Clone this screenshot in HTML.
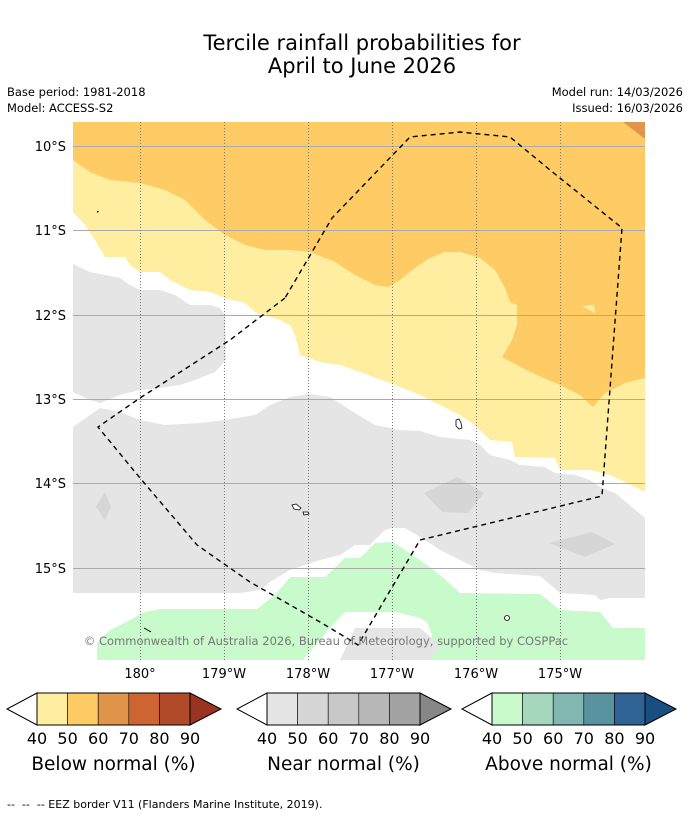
<!DOCTYPE html>
<html><head><meta charset="utf-8"><style>
body{margin:0;background:#fff;width:690px;height:816px;overflow:hidden;font-family:"DejaVu Sans","Liberation Sans",sans-serif;}
svg{position:absolute;left:0;top:0}
text{white-space:pre}
</style></head><body>
<svg width="690" height="816" viewBox="0 0 690 816">
<text x="362" y="50" font-size="21" text-anchor="middle">Tercile rainfall probabilities for</text>
<text x="362" y="73" font-size="21" text-anchor="middle">April to June 2026</text>
<text x="7" y="96" font-size="11.5">Base period: 1981-2018</text>
<text x="7" y="112" font-size="11.5">Model: ACCESS-S2</text>
<text x="683" y="96" font-size="11.5" text-anchor="end">Model run: 14/03/2026</text>
<text x="683" y="112" font-size="11.5" text-anchor="end">Issued: 16/03/2026</text>
<defs><clipPath id="mc"><rect x="73" y="122" width="572" height="538"/></clipPath></defs>
<g clip-path="url(#mc)">
<rect x="73" y="122" width="572" height="538" fill="#fff"/>
<polygon fill="#FFEDA0" points="73,122 645,122 645,492 610,475 590,470 560,470 555,458 515,457 512,442 490,440 475,425 460,415 440,405 420,395 395,385 360,372 340,365 320,362 300,355 295,335 290,325 280,320 265,315 255,312 245,303 225,298 210,292 190,290 170,280 160,272 140,272 130,265 125,257 105,257 95,240 85,225 73,212"/>
<polygon fill="#FECB64" points="73,122 645,122 645,378 625,383 605,393 593,407 580,395 560,385 530,372 502,357 512,340 517,325 517,305 510,302 505,288 495,270 480,258 460,252 445,252 430,258 415,268 400,280 388,287 375,285 355,275 335,262 310,252 290,250 265,250 245,245 225,235 205,220 185,200 165,190 140,183 110,180 90,172 73,160"/>
<polygon fill="#E0954A" points="623,122 645,122 645,139"/>
<polygon fill="#FFEDA0" points="582,306 594,305 595,313"/>
<polygon fill="#E5E5E5" points="73,264 90,272 105,275 120,278 130,285 140,290 160,290 175,295 190,305 210,305 220,308 225,315 226,360 215,372 195,380 180,385 160,388 140,390 120,395 100,403 90,400 73,392"/>
<polygon fill="#E5E5E5" points="73,427 90,415 100,408 120,412 140,420 165,425 200,423 225,420 255,415 270,405 290,397 310,394 330,397 350,410 375,425 390,428 400,430 420,431 440,437 470,440 480,445 490,455 510,460 520,465 545,467 555,473 575,475 590,480 600,487 615,493 645,518 645,598 610,598 600,600 595,595 560,593 540,576 495,573 480,570 460,560 440,550 425,540 405,528 392,528 385,530 380,535 370,545 355,545 340,555 320,560 290,570 270,582 260,590 240,593 73,593"/>
<polygon fill="#D6D6D6" points="96,507 105,492 111,507 105,520"/>
<polygon fill="#D6D6D6" points="424,493 457,477 484,493 468,513 442,512"/>
<polygon fill="#D6D6D6" points="549,543 592,532 615,544 585,557"/>
<polygon fill="#C8FACB" points="97,660 97,643 110,630 130,620 145,612 160,609 257,609 275,595 290,577 325,577 345,558 360,558 375,543 393,542 420,560 440,575 460,593 540,594 560,610 600,612 613,628 645,628 645,660"/>
<polygon fill="#fff" points="303,660 330,628 345,612 395,612 400,613 420,618 427,622 432,635 428,660"/>
<polygon fill="#E5E5E5" points="340,660 355,628 420,628 440,645 430,660"/>
<g stroke="#aaa" stroke-width="1">
<line x1="73" x2="645" y1="146.5" y2="146.5"/><line x1="73" x2="645" y1="230.5" y2="230.5"/><line x1="73" x2="645" y1="315.5" y2="315.5"/><line x1="73" x2="645" y1="399.5" y2="399.5"/><line x1="73" x2="645" y1="483.5" y2="483.5"/><line x1="73" x2="645" y1="568.5" y2="568.5"/>
</g>
<g stroke="#777" stroke-width="1" stroke-dasharray="1,2">
<line y1="122" y2="660" x1="140.5" x2="140.5"/><line y1="122" y2="660" x1="224.5" x2="224.5"/><line y1="122" y2="660" x1="308.5" x2="308.5"/><line y1="122" y2="660" x1="392.5" x2="392.5"/><line y1="122" y2="660" x1="476.5" x2="476.5"/><line y1="122" y2="660" x1="560.5" x2="560.5"/>
</g>
<g fill="#fff" stroke="#000" stroke-width="0.8">
<path d="M456,420 l3,-1 l2,4 l1,5 l-3,1 l-3,-3 z"/>
<path d="M292,505 l4,-1 l5,4 l-2,2 l-5,-1 z"/>
<path d="M303,512 l5,0 l1,2 l-5,1 z"/>
<circle cx="507" cy="618" r="2.5"/>
</g>
<line x1="144" y1="628" x2="151" y2="632" stroke="#000" stroke-width="1"/>
<rect x="97" y="211" width="1.5" height="1.5" fill="#000"/>
<polyline fill="none" stroke="#000" stroke-width="1.4" stroke-dasharray="5,4" points="285,298 230,340 140,398 98,427 140,478 197,545 250,582 320,622 350,640 358,645 420,540 602,496 622,228 550,170 510,137 460,132 410,137 332,218 285,298"/>
<text x="326" y="645" font-size="11.5" fill="#777" text-anchor="middle">© Commonwealth of Australia 2026, Bureau of Meteorology, supported by COSPPac</text>
</g>
<g font-size="13" text-anchor="end">
<text x="66" y="151">10°S</text><text x="66" y="235">11°S</text><text x="66" y="320">12°S</text><text x="66" y="404">13°S</text><text x="66" y="488">14°S</text><text x="66" y="573">15°S</text>
</g>
<g font-size="13" text-anchor="middle">
<text x="140" y="678">180°</text><text x="224" y="678">179°W</text><text x="308" y="678">178°W</text><text x="392" y="678">177°W</text><text x="476" y="678">176°W</text><text x="560" y="678">175°W</text>
</g>
<g id="cbars"></g>
<text x="7" y="808" font-size="11">--  --  -- EEZ border V11 (Flanders Marine Institute, 2019).</text>
</svg>
<script>
const tickLabels = ["40","50","60","70","80","90"];
const barTitles = ["Below normal (%)","Near normal (%)","Above normal (%)"];
const belowColors = ["#FFEDA0","#FECB64","#E0954A","#CF6433","#B04A28","#9A3322"];
const nearColors = ["#E5E5E5","#D6D6D6","#C8C8C8","#B7B7B7","#A3A3A3","#878787"];
const aboveColors = ["#C8FACB","#A4D7BC","#81B7B0","#5A93A0","#2F6396","#184E82"];
const NS="http://www.w3.org/2000/svg";
const root=document.getElementById('cbars');
const sets=[belowColors,nearColors,aboveColors];
const starts=[37,267,492];
function mk(tag,attrs,parent){const e=document.createElementNS(NS,tag);for(const k in attrs)e.setAttribute(k,attrs[k]);parent.appendChild(e);return e;}
sets.forEach((cols,i)=>{
  const x0=starts[i], w=153, n=cols.length-1, bw=w/n, y0=693, h=32;
  const g=mk('g',{},root);
  
  
  const lt=mk('polygon',{points:`${x0},${y0} ${x0-30},${y0+h/2} ${x0},${y0+h}`,fill:'#fff',stroke:'#000','stroke-width':1},g);
  
  
  for(let k=0;k<n;k++){
    const r=mk('rect',{x:x0+k*bw,y:y0,width:bw,height:h,fill:cols[k],stroke:'#000','stroke-width':0.6},g);
    
    
  }
  const rt=mk('polygon',{points:`${x0+w},${y0} ${x0+w+31},${y0+h/2} ${x0+w},${y0+h}`,fill:cols[n],stroke:'#000','stroke-width':1},g);
  
  
  mk('rect',{x:x0,y:y0,width:w,height:h,fill:'none',stroke:'#000','stroke-width':1},g);
  tickLabels.forEach((t,k)=>{
    const tx=mk('text',{x:x0+k*bw,y:744,'font-size':16,'text-anchor':'middle'},g);
    tx.textContent=t;
    
    
  });
  const tt=mk('text',{x:x0+w/2,y:770,'font-size':18.5,'text-anchor':'middle'},g);
  tt.textContent=barTitles[i];
  
  
});
</script>
</body></html>
